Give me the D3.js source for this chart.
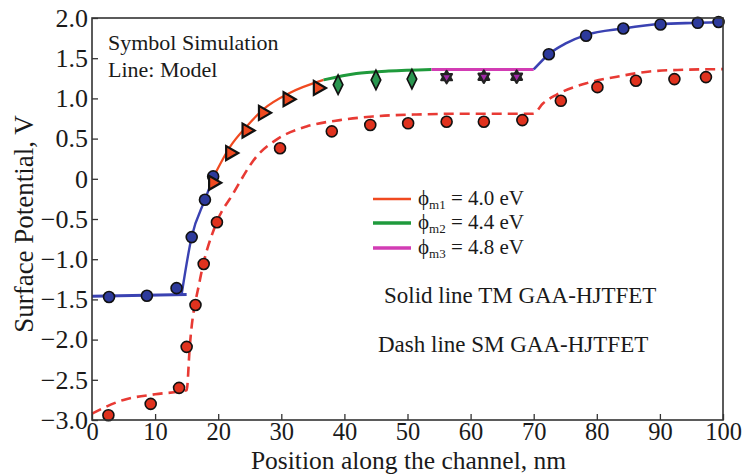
<!DOCTYPE html>
<html>
<head>
<meta charset="utf-8">
<script src="https://cdn.jsdelivr.net/npm/d3@7/dist/d3.min.js"></script>
<style>
  html, body { margin: 0; padding: 0; background: #fff; }
  svg { display: block; }
  text { font-family: "Liberation Serif", "Times New Roman", serif; fill: #1a1a1a; }
</style>
</head>
<body>
<svg id="chart" width="743" height="476"></svg>
<script>
// ---------- data ----------
const xTicks = [0, 10, 20, 30, 40, 50, 60, 70, 80, 90, 100];
const yTicks = [2.0, 1.5, 1.0, 0.5, 0, -0.5, -1.0, -1.5, -2.0, -2.5, -3.0];
const yTickLabels = ["2.0", "1.5", "1.0", "0.5", "0", "\u22120.5", "\u22121.0", "\u22121.5", "\u22122.0", "\u22122.5", "\u22123.0"];

// Model (TM, solid) segments
const tmFlatX = [0, 15.0];
const tmFlatY = [-1.46, -1.44];
const tmRiseX = [14.2, 15.8, 17.9, 19.3];
const tmRiseY = [-1.44, -0.72, -0.26, 0.03];
const tmM1X = [19.3, 21.9, 24.5, 27.1, 31.4, 36.7];
const tmM1Y = [0.03, 0.40, 0.65, 0.86, 1.07, 1.23];
const tmM2X = [36.7, 41.9, 47.0, 53.8];
const tmM2Y = [1.23, 1.31, 1.34, 1.36];
const tmM3X = [53.8, 70.0];
const tmM3Y = [1.36, 1.36];
const tmDrainX = [70.0, 72.4, 75.0, 78.3, 84.2, 90.1, 96.0, 100];
const tmDrainY = [1.36, 1.55, 1.68, 1.79, 1.87, 1.925, 1.94, 1.95];

// Model (SM, dashed)
const smX = [0, 5, 10, 15.0, 15.5, 17.1, 19.5, 22.4, 26.1, 29.3, 34.0, 39.3, 44.5, 51.4, 60, 69.9, 71.5, 73.6, 78.4, 83.2, 88.4, 93.7, 100];
const smY = [-2.92, -2.75, -2.68, -2.63, -2.08, -1.26, -0.59, -0.18, 0.28, 0.49, 0.65, 0.73, 0.775, 0.80, 0.81, 0.81, 0.94, 1.045, 1.19, 1.27, 1.335, 1.356, 1.364];

// Simulation symbols
const simBlueX = [2.7, 8.7, 13.4, 15.8, 17.9, 19.2, 72.4, 78.3, 84.2, 90.1, 96.0, 99.3];
const simBlueY = [-1.47, -1.455, -1.36, -0.725, -0.26, 0.03, 1.55, 1.78, 1.87, 1.92, 1.94, 1.95];
const simM1X = [19.2, 21.9, 24.5, 27.1, 31.0, 35.8];
const simM1Y = [-0.05, 0.32, 0.60, 0.82, 0.99, 1.13];
const simM2X = [39.0, 45.0, 50.7];
const simM2Y = [1.17, 1.23, 1.24];
const simM3X = [56.2, 62.1, 67.3];
const simM3Y = [1.265, 1.27, 1.27];
const simSmX = [2.6, 9.3, 13.8, 15.0, 16.4, 17.7, 19.8, 29.8, 38.0, 44.1, 50.1, 56.2, 62.1, 68.2, 74.3, 80.1, 86.2, 92.3, 97.3];
const simSmY = [-2.94, -2.80, -2.60, -2.09, -1.57, -1.06, -0.54, 0.38, 0.59, 0.67, 0.69, 0.71, 0.71, 0.73, 0.97, 1.14, 1.22, 1.24, 1.265];

const legendLabels = [["m1", "4.0"], ["m2", "4.4"], ["m3", "4.8"]];

// ---------- drawing ----------
const svg = d3.select("#chart");
const L = 92, R = 723, T = 18, B = 420;
const x = d3.scaleLinear().domain([0, 100]).range([L, R]);
const y = d3.scaleLinear().domain([-3, 2]).range([B, T]);

const C = {
  blue: "#3a42b2", blueMk: "#2d3a9c",
  orange: "#f04a20", red: "#e83a34", redMk: "#e0321e",
  green: "#1f9a3c", greenMk: "#2a9650",
  pink: "#d23cb4", pinkMk: "#a02aa8"
};

const zip = (xs, ys) => xs.map((v, i) => [v, ys[i]]);
const line = d3.line().x(d => x(d[0])).y(d => y(d[1])).curve(d3.curveMonotoneX);
const lineLin = d3.line().x(d => x(d[0])).y(d => y(d[1]));

const plot = svg.append("g");

// dashed SM
plot.append("path").attr("d", line(zip(smX, smY)))
  .attr("fill", "none").attr("stroke", C.red).attr("stroke-width", 2.6)
  .attr("stroke-dasharray", "10,6");

// solid TM
plot.append("path").attr("d", lineLin(zip(tmFlatX, tmFlatY)))
  .attr("fill", "none").attr("stroke", C.blue).attr("stroke-width", 3);
plot.append("path").attr("d", line(zip(tmRiseX, tmRiseY)))
  .attr("fill", "none").attr("stroke", C.blue).attr("stroke-width", 2.4);
plot.append("path").attr("d", line(zip(tmM1X, tmM1Y)))
  .attr("fill", "none").attr("stroke", C.orange).attr("stroke-width", 2.2);
plot.append("path").attr("d", line(zip(tmM2X, tmM2Y)))
  .attr("fill", "none").attr("stroke", C.green).attr("stroke-width", 3);
plot.append("path").attr("d", line(zip(tmM3X, tmM3Y)))
  .attr("fill", "none").attr("stroke", C.pink).attr("stroke-width", 3);
plot.append("path").attr("d", line(zip(tmDrainX, tmDrainY)))
  .attr("fill", "none").attr("stroke", C.blue).attr("stroke-width", 2.6);

// symbols
function circles(xs, ys, fill) {
  plot.append("g").selectAll("circle").data(zip(xs, ys)).join("circle")
    .attr("cx", d => x(d[0])).attr("cy", d => y(d[1])).attr("r", 5.5)
    .attr("fill", fill).attr("stroke", "#111").attr("stroke-width", 1.6);
}
circles(simSmX, simSmY, C.redMk);
circles(simBlueX, simBlueY, C.blueMk);

// right-pointing triangles
const triR = d3.symbol().type(d3.symbolTriangle).size(85);
plot.append("g").selectAll("path").data(zip(simM1X, simM1Y)).join("path")
  .attr("d", triR)
  .attr("transform", d => `translate(${x(d[0])},${y(d[1])}) rotate(90)`)
  .attr("fill", C.orange).attr("stroke", "#111").attr("stroke-width", 2.2)
  .attr("stroke-linejoin", "miter");

// diamonds
const dia = d3.symbol().type(d3.symbolDiamond).size(60);
plot.append("g").selectAll("path").data(zip(simM2X, simM2Y)).join("path")
  .attr("d", dia)
  .attr("transform", d => `translate(${x(d[0])},${y(d[1])}) scale(1.15,1.35)`)
  .attr("fill", C.greenMk).attr("stroke", "#111").attr("stroke-width", 1.4);

// pink markers (small down triangle in a dark rounded outline)
const triOut = d3.symbol().type(d3.symbolTriangle).size(50);
const triD = d3.symbol().type(d3.symbolTriangle).size(18);
const pg = plot.append("g").selectAll("g").data(zip(simM3X, simM3Y)).join("g")
  .attr("transform", d => `translate(${x(d[0])},${y(d[1])})`);
pg.append("path").attr("d", triOut).attr("fill", "#222").attr("stroke", "#222")
  .attr("stroke-width", 2.2).attr("stroke-linejoin", "round");
pg.append("path").attr("d", triOut).attr("fill", "#222").attr("stroke", "#222")
  .attr("stroke-width", 2.2).attr("stroke-linejoin", "round").attr("transform", "rotate(180)");
pg.append("path").attr("d", triD).attr("fill", C.pinkMk).attr("transform", "rotate(180)");

// frame
svg.append("rect").attr("x", L).attr("y", T).attr("width", R - L).attr("height", B - T)
  .attr("fill", "none").attr("stroke", "#333").attr("stroke-width", 1.6);

// axes
const xAxis = d3.axisBottom(x).tickValues(xTicks).tickSizeInner(-6).tickSizeOuter(0).tickPadding(3)
  .tickFormat(d3.format("d"));
const gx = svg.append("g").attr("transform", `translate(0,${B})`).call(xAxis);
gx.select(".domain").remove();
gx.selectAll(".tick line").attr("stroke", "#333").attr("stroke-width", 1.3);
gx.selectAll(".tick text").attr("font-size", 24.5).attr("fill", "#1a1a1a")
  .attr("font-family", "Liberation Serif");

const yAxis = d3.axisLeft(y).tickValues(yTicks).tickSizeInner(-6).tickSizeOuter(0).tickPadding(4)
  .tickFormat((d, i) => yTickLabels[i]);
const gy = svg.append("g").attr("transform", `translate(${L},0)`).call(yAxis);
gy.select(".domain").remove();
gy.selectAll(".tick line").attr("stroke", "#333").attr("stroke-width", 1.3);
gy.selectAll(".tick text").attr("font-size", 26).attr("fill", "#1a1a1a")
  .attr("font-family", "Liberation Serif");

// axis titles
svg.append("text").attr("x", (L + R) / 2 + 1).attr("y", 469)
  .attr("text-anchor", "middle").attr("font-size", 25.5)
  .text("Position along the channel, nm");
svg.append("text").attr("transform", "translate(33,224) rotate(-90)")
  .attr("text-anchor", "middle").attr("font-size", 27)
  .text("Surface Potential, V");

// annotations
svg.append("text").attr("x", 108).attr("y", 50).attr("font-size", 22).text("Symbol Simulation");
svg.append("text").attr("x", 108).attr("y", 77).attr("font-size", 22).text("Line: Model");
svg.append("text").attr("x", 384).attr("y", 303).attr("font-size", 23).text("Solid line TM GAA-HJTFET");
svg.append("text").attr("x", 378).attr("y", 352).attr("font-size", 23).text("Dash line SM GAA-HJTFET");

// legend
const legColors = [C.orange, C.green, C.pink];
const legWidths = [2.4, 3.6, 3.6];
const legLineY = [199, 223, 248];
const legTextY = [205, 229, 254];
legendLabels.forEach((lab, i) => {
  svg.append("line").attr("x1", 373).attr("x2", 411)
    .attr("y1", legLineY[i]).attr("y2", legLineY[i])
    .attr("stroke", legColors[i]).attr("stroke-width", legWidths[i]);
  const t = svg.append("text").attr("x", 418).attr("y", legTextY[i]).attr("font-size", 21);
  t.append("tspan").text("\u03d5");
  t.append("tspan").attr("font-size", 13).attr("dy", 4).text(lab[0]);
  t.append("tspan").attr("dy", -4).text(" = " + lab[1] + " eV");
});
</script>
</body>
</html>
